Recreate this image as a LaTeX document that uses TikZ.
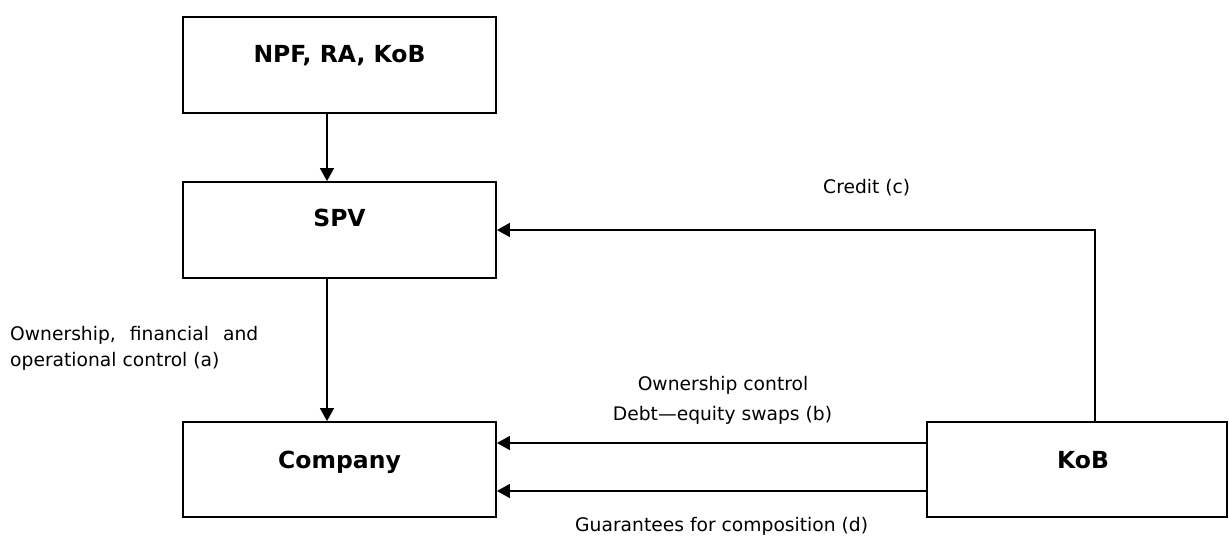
\documentclass[tikz,border=0pt]{standalone}
\usepackage{fontspec}
\setmainfont{DejaVu Sans}
\usetikzlibrary{arrows.meta,calc}

\tikzset{
  box/.style={draw, line width=1.8pt, rectangle, inner sep=0pt, minimum width=313pt},
  boxtext/.style={anchor=base, inner sep=0pt, font=\fontsize{23.5}{28}\selectfont\bfseries},
  lbl/.style={anchor=base, inner sep=0pt, font=\fontsize{18.7}{25.5}\selectfont},
  arr/.style={line width=1.4pt, -{Triangle[length=13pt,width=14pt]}},
}

\begin{document}
\begin{tikzpicture}[x=1pt, y=-1pt]
  \useasboundingbox (0,0) rectangle (1229,536);

  % boxes
  \node[box, minimum height=96pt] (npf) at (339.5,65) {};
  \node[box, minimum height=96pt] (spv) at (339.5,230) {};
  \node[box, minimum height=95pt] (comp) at (339.5,469.5) {};
  \node[box, minimum width=300pt, minimum height=95pt] (kob) at (1077,469.5) {};

  % box captions
  \node[boxtext] (npft) at (339.5,62.7) {NPF, RA, KoB};
  \node[boxtext] (spvt) at (339.5,226.7) {SPV};
  \node[boxtext] (compt) at (339.5,468) {Company};
  \node[boxtext] (kobt) at (1083,468) {KoB};

  % helper coordinates for connector lines
  \coordinate (vx) at (327,0);
  \coordinate (cx) at (1095,0);
  \coordinate (ya) at (0,443);
  \coordinate (yb) at (0,491);

  % connectors
  \draw[arr] (npf.south -| vx) -- (spv.north -| vx);
  \draw[arr] (spv.south -| vx) -- (comp.north -| vx);
  \draw[arr] (kob.north -| cx) |- (spv.east);
  \draw[arr] (kob.west |- ya) -- (comp.east |- ya);
  \draw[arr] (kob.west |- yb) -- (comp.east |- yb);

  % connector labels
  \node[lbl, anchor=base west] (la1) at (10,340.5) {\makebox[248pt][l]{Ownership,\hfill financial\hfill and}};
  \node[lbl, anchor=base west] (la2) at (10,366) {operational control (a)};
  \node[lbl] (lb1) at (723,390.7) {Ownership control};
  \node[lbl] (lb2) at (722.5,420) {Debt---equity swaps (b)};
  \node[lbl, anchor=base west] (lc) at (823,193) {Credit (c)};
  \node[lbl, anchor=base west] (ld) at (575,531.7) {Guarantees for composition (d)};
\end{tikzpicture}
\end{document}
